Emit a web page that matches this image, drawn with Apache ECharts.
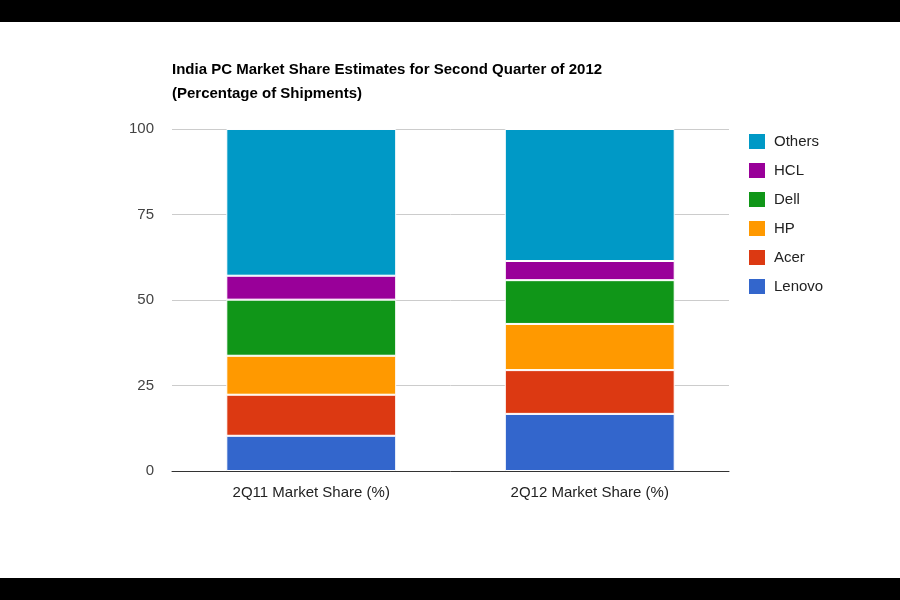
<!DOCTYPE html>
<html><head><meta charset="utf-8">
<script src="https://cdn.jsdelivr.net/npm/echarts@6/dist/echarts.min.js"></script>
<style>html,body{margin:0;background:#fff}#c{width:900px;height:600px}</style>
</head><body><div id="c"></div>
<script>
const categories = ['2Q11 Market Share (%)', '2Q12 Market Share (%)'];
const seriesNames = ['Lenovo', 'Acer', 'HP', 'Dell', 'HCL', 'Others'];
const lenovo = [10.3, 16.7];
const acer = [12.0, 12.8];
const hp = [11.4, 13.5];
const dell = [16.4, 12.8];
const hcl = [7.0, 5.6];
const others = [42.9, 38.6];
const colors = ['#3366cc', '#dc3912', '#ff9900', '#109618', '#990099', '#0099c6'];
const values = [lenovo, acer, hp, dell, hcl, others];

const chart = echarts.init(document.getElementById('c'));
chart.setOption({
  animation: false,
  textStyle: { fontFamily: 'Arial, Liberation Sans, sans-serif' },
  graphic: [
    { type: 'rect', shape: { x: 0, y: 0, width: 900, height: 22 }, style: { fill: '#000' } },
    { type: 'rect', shape: { x: 0, y: 578, width: 900, height: 22 }, style: { fill: '#000' } },
    { type: 'text', left: 172, top: 58, style: { text: 'India PC Market Share Estimates for Second Quarter of 2012\n(Percentage of Shipments)', font: 'bold 15px Arial, Liberation Sans, sans-serif', fill: '#000', lineHeight: 24 } }
  ],
  legend: {
    data: seriesNames.slice().reverse(),
    orient: 'vertical', left: 742, top: 127, itemGap: 10,
    itemWidth: 18, itemHeight: 17, icon: 'rect',
    textStyle: { fontSize: 15, color: '#222', padding: [0, 0, 0, 3] }
  },
  grid: { left: 172, right: 171, top: 129, bottom: 129 },
  xAxis: {
    type: 'category', data: categories,
    axisTick: { show: false },
    axisLine: { lineStyle: { color: '#333' } },
    axisLabel: { fontSize: 15, color: '#222', margin: 14 }
  },
  yAxis: {
    type: 'value', min: 0, max: 100, interval: 25,
    axisLabel: { fontSize: 15, color: '#444', margin: 18 },
    splitLine: { lineStyle: { color: '#ccc' } }
  },
  series: seriesNames.map((n, i) => ({
    name: n, type: 'bar', stack: 'total', barWidth: '61%',
    itemStyle: { color: colors[i], borderColor: '#fff', borderWidth: 1 },
    data: values[i]
  }))
});
</script></body></html>
